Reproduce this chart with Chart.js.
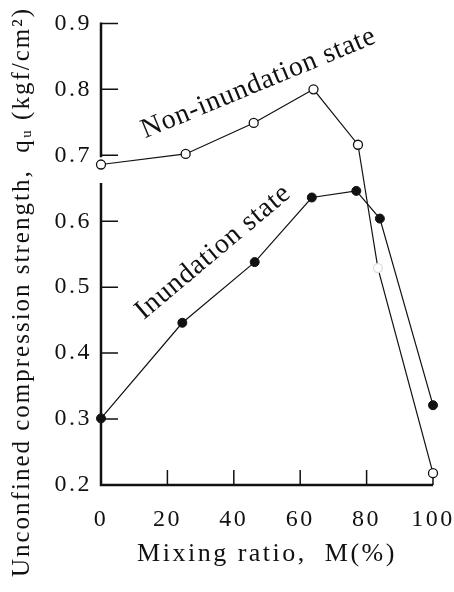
<!DOCTYPE html>
<html lang="en">
<head>
<meta charset="UTF-8">
<title>Unconfined compression strength vs mixing ratio</title>
<script src="https://cdn.jsdelivr.net/npm/chart.js"></script>
<style>
  html, body { margin: 0; padding: 0; background: #fff; }
  #wrap { width: 454px; height: 592px; }
</style>
</head>
<body>
<div id="wrap"><canvas id="quChart"></canvas></div>
<script>
  // values
  const mixNon = [0, 25.5, 46, 64, 77.4, 83.4, 100];
  const quNon  = [0.686, 0.702, 0.749, 0.800, 0.716, 0.529, 0.218];
  const mixInu = [0, 24.5, 46.3, 63.5, 76.9, 84, 100];
  const quInu  = [0.301, 0.446, 0.538, 0.636, 0.646, 0.604, 0.321];
  const xTicks = [0, 20, 40, 60, 80, 100];
  const yTicks = [0.2, 0.3, 0.4, 0.5, 0.6, 0.7, 0.8, 0.9];
  const seriesNames = ['Non-inundation state', 'Inundation state'];
  const xTitle = 'Mixing ratio,  M(%)';
  const yTitle = 'Unconfined compression strength,  qᵤ (kgf/cm²)';
  const yGap = [0.658, 0.697]; // where the y axis line is broken

  const serif = '"Liberation Serif", "Times New Roman", serif';
  const ink = '#111';

  const toXY = (xs, ys) => xs.map((v, i) => ({ x: v, y: ys[i] }));

  // axis lines with a break, inward ticks, labels on the curves, y title
  const frame = {
    id: 'frame',
    beforeUpdate(chart) { chart.ctx.letterSpacing = '2.5px'; },
    beforeDraw(chart) { chart.ctx.letterSpacing = '2.5px'; },
    beforeDatasetsDraw(chart) {
      const { ctx, chartArea: a } = chart;
      const x = chart.scales.x, y = chart.scales.y;
      ctx.save();
      ctx.strokeStyle = ink;
      ctx.lineWidth = 2.5;
      ctx.beginPath();
      ctx.moveTo(a.left, y.getPixelForValue(0.9) - 1);
      ctx.lineTo(a.left, y.getPixelForValue(yGap[1]));
      ctx.moveTo(a.left, y.getPixelForValue(yGap[0]));
      ctx.lineTo(a.left, a.bottom);
      ctx.lineTo(a.right, a.bottom);
      ctx.stroke();
      ctx.lineWidth = 1.5;
      ctx.beginPath();
      yTicks.slice(1).forEach(v => {
        const py = y.getPixelForValue(v);
        ctx.moveTo(a.left, py);
        ctx.lineTo(a.left + 17, py);
      });
      xTicks.slice(1).forEach(v => {
        const px = x.getPixelForValue(v);
        ctx.moveTo(px, a.bottom);
        ctx.lineTo(px, a.bottom - 15);
      });
      ctx.stroke();
      ctx.restore();
    },
    afterDraw(chart, args, opts) {
      const { ctx } = chart;
      const x = chart.scales.x, y = chart.scales.y;
      ctx.save();
      ctx.fillStyle = ink;
      ctx.textAlign = 'center';
      ctx.textBaseline = 'middle';
      ctx.font = '28px ' + serif;
      opts.notes.forEach(n => {
        ctx.save();
        ctx.letterSpacing = n.spacing;
        ctx.translate(x.getPixelForValue(n.x), y.getPixelForValue(n.y));
        ctx.rotate(n.angle * Math.PI / 180);
        ctx.fillText(n.text, 0, 0);
        ctx.restore();
      });
      ctx.font = '25px ' + serif;
      ctx.letterSpacing = '2px';
      ctx.translate(opts.yTitleX, opts.yTitleY);
      ctx.rotate(-Math.PI / 2);
      ctx.fillText(yTitle, 0, 0);
      ctx.restore();
    }
  };

  new Chart(document.getElementById('quChart'), {
    type: 'line',
    data: {
      datasets: [
        {
          label: seriesNames[0],
          data: toXY(mixNon, quNon),
          borderColor: ink,
          borderWidth: 1.2,
          pointRadius: 4.5,
          pointBorderWidth: 1.3,
          pointBackgroundColor: '#fff',
          pointBorderColor: [ink, ink, ink, ink, ink, '#ddd', ink],
          clip: false
        },
        {
          label: seriesNames[1],
          data: toXY(mixInu, quInu),
          borderColor: ink,
          borderWidth: 1.2,
          pointRadius: 4.5,
          pointBorderWidth: 1,
          pointBackgroundColor: ink,
          pointBorderColor: ink,
          clip: false
        }
      ]
    },
    options: {
      responsive: true,
      maintainAspectRatio: false,
      animation: false,
      layout: { padding: { top: 21, right: 21, left: 0, bottom: 0 } },
      plugins: {
        legend: { display: false },
        tooltip: { enabled: false },
        frame: {
          notes: [
            { text: seriesNames[0], x: 47.5, y: 0.809, angle: -22.5, spacing: '0.8px' },
            { text: seriesNames[1], x: 33.8, y: 0.553, angle: -40, spacing: '0.9px' }
          ],
          yTitleX: 22,
          yTitleY: 292
        }
      },
      scales: {
        x: {
          type: 'linear',
          min: 0,
          max: 100,
          afterBuildTicks: s => { s.ticks = xTicks.map(v => ({ value: v })); },
          afterFit: s => { s.height = 107; s.paddingRight = 0; s.paddingLeft = 0; },
          grid: { display: false, drawTicks: false },
          border: { display: false },
          ticks: { color: ink, padding: 20, maxRotation: 0, font: { family: serif, size: 24 } },
          title: {
            display: true,
            text: xTitle,
            color: ink,
            font: { family: serif, size: 26 },
            padding: { top: 0, bottom: 22 }
          }
        },
        y: {
          min: 0.2,
          max: 0.9,
          afterBuildTicks: s => { s.ticks = yTicks.map(v => ({ value: v })); },
          afterFit: s => { s.width = 101; },
          grid: { display: false, drawTicks: false },
          border: { display: false },
          ticks: {
            color: ink,
            padding: 9,
            font: { family: serif, size: 24 },
            callback: v => v.toFixed(1)
          }
        }
      }
    },
    plugins: [frame]
  });
</script>
</body>
</html>
